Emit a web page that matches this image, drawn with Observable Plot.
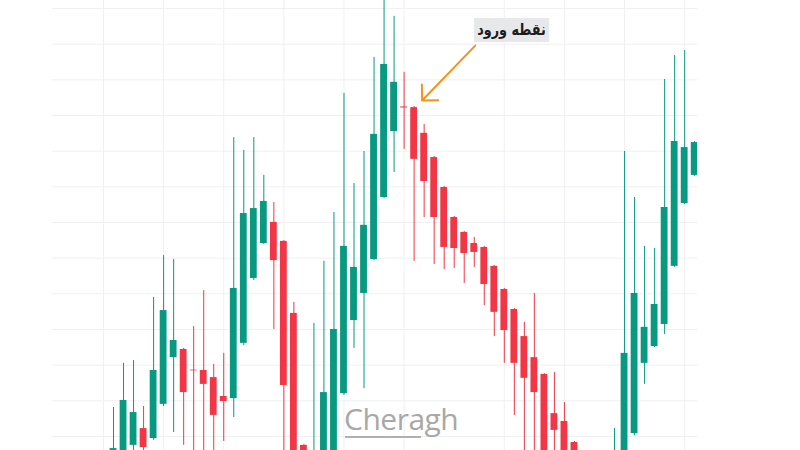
<!DOCTYPE html>
<html>
<head>
<meta charset="utf-8">
<script src="https://cdn.jsdelivr.net/npm/d3@7"></script>
<script src="https://cdn.jsdelivr.net/npm/@observablehq/plot@0.6"></script>
<style>
  html, body { margin: 0; padding: 0; background: #ffffff; }
  #wrap { position: relative; width: 800px; height: 450px; overflow: hidden; }
  #label {
    position: absolute; left: 474px; top: 18px; height: 24px; padding: 0 4px;
    background: #e7e8ea; color: #1c1c1c; font-family: "DejaVu Sans", sans-serif;
    font-size: 16px; font-weight: bold; line-height: 24px; text-align: center; direction: rtl;
    white-space: nowrap; transform: scaleX(0.8); transform-origin: left center;
  }
  #mark {
    position: absolute; left: 344px; top: 398px; color: #a8a8a8;
    font-family: "Open Sans", sans-serif; font-size: 30px; font-weight: 400; letter-spacing: -0.5px;
  }
  #underline { position: absolute; left: 345px; top: 436px; width: 76px; height: 2px; background: #b0b0b0; }
</style>
</head>
<body>
<div id="wrap">
  <div id="chart"></div>
  <div id="label">نقطه ورود</div>
  <div id="mark">Cheragh</div>
  <div id="underline"></div>
</div>
<script>
// candle index (time order)
const idx = d3.range(59);
const opens = [89.1,90.5,97.5,102.2,99.4,109.0,122.1,124.4,118.6,118.5,116.5,111.2,110.6,126.1,144.3,154.1,160.0,154.7,134.5,97.5,
  82.0,90.5,93.3,112.0,132.5,140.1,149.6,167.0,185.5,192.4,192.2,185.0,178.2,169.8,161.4,157.2,154.1,153.0,147.7,141.2,
  135.6,128.0,122.1,117.4,106.4,104.2,98.3,93.3,89.1,83.4,84.8,90.5,100.8,120.5,125.2,131.4,147.7,165.3,173.2];
const closes = [96.6,110.1,106.7,96.9,118.5,135.3,126.9,112.3,118.4,114.6,105.9,109.8,141.5,162.5,163.9,165.9,149.3,114.3,90.5,87.7,
  93.3,112.3,130.0,153.3,147.4,159.2,184.7,204.3,199.3,192.1,177.7,171.5,161.4,153.0,152.7,151.3,151.6,142.6,134.8,129.7,
  120.5,116.3,112.3,90.5,101.7,93.3,89.1,84.8,82.0,91.9,93.3,123.3,140.1,130.6,137.0,164.2,182.7,181.0,182.4];
const highs = [108.1,120.5,121.3,108.4,139.0,150.7,149.6,124.7,130.8,140.9,120.2,123.3,183.8,180.2,183.8,173.2,165.6,154.9,137.6,97.7,
  131.7,149.1,162.8,196.2,170.9,179.9,206.3,223.6,217.8,202.1,192.5,187.5,178.5,170.1,161.7,157.5,155.8,153.3,147.9,141.5,
  135.9,132.0,140.1,117.6,117.9,109.5,98.6,94.7,92.7,94.4,102.2,179.9,167.0,153.3,152.7,200.1,206.8,208.2,182.7];
const lows = [87.7,89.1,95.5,94.7,98.9,108.4,101.1,97.5,93.8,95.5,93.8,98.6,105.3,125.5,143.7,153.8,130.0,89.1,87.7,84.8,
  80.6,89.1,91.9,111.5,124.7,113.4,149.3,166.7,174.0,180.5,149.1,161.4,148.2,146.8,147.1,142.9,147.4,136.7,128.0,120.5,
  105.9,90.5,90.5,87.7,90.5,90.5,86.3,83.4,80.6,82.0,83.4,89.1,100.2,114.6,124.9,128.6,147.4,165.0,172.9];

// grid positions (price levels and time columns)
const priceGrid = d3.range(100, 221, 10);
const timeGrid = [-1, 5, 11, 17, 23, 29, 39, 45, 51, 57];

// entry-point annotation arrow (from label towards entry candle)
const entryArrow = [{x1: 36.1, y1: 209.6, x2: 30.8, y2: 194.2}];

const UP = "#089981", DOWN = "#f23645";
const candles = idx.map(i => ({i, open: opens[i], close: closes[i], high: highs[i], low: lows[i],
  color: closes[i] >= opens[i] ? UP : DOWN}));

const chart = Plot.plot({
  width: 800, height: 450,
  marginLeft: 52, marginRight: 103, marginTop: 0, marginBottom: 0,
  x: {domain: [-6.09, 58.28], axis: null},
  y: {domain: [96.06, 222.24], axis: null},
  color: {type: "identity"},
  marks: [
    Plot.ruleY(priceGrid, {stroke: "#eff0f3", strokeWidth: 1}),
    Plot.ruleX(timeGrid, {stroke: "#eff0f3", strokeWidth: 1}),
    Plot.ruleX(candles, {x: "i", y1: "low", y2: "high", stroke: "color", strokeWidth: 1, clip: true}),
    Plot.rect(candles, {x1: d => d.i - 0.34, x2: d => d.i + 0.34, y1: "open", y2: "close", fill: "color", clip: true}),
    Plot.arrow(entryArrow, {x1: "x1", y1: "y1", x2: "x2", y2: "y2", stroke: "#f5921b", strokeWidth: 2, headAngle: 90, headLength: 12})
  ]
});
document.getElementById("chart").appendChild(chart);
</script>
</body>
</html>
